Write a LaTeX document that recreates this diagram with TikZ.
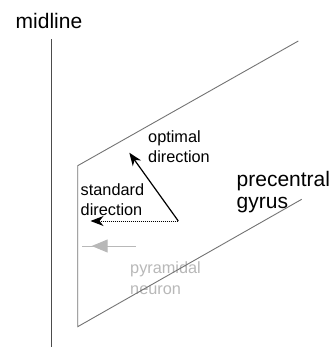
\documentclass[tikz,border=0pt]{standalone}
\usepackage{fontspec}
\setmainfont{Liberation Sans}
\usetikzlibrary{arrows.meta}

\definecolor{lineGray}{gray}{0.45}
\definecolor{axisGray}{gray}{0.3}
\definecolor{neuronGray}{gray}{0.72}

\begin{document}
\begin{tikzpicture}[x=1pt, y=-1pt, >={Stealth[length=13pt, width=10pt, inset=4pt]}]
  \useasboundingbox (0,0) rectangle (333,357);

  % Labels (base anchor = baseline of the last line)
  \node[anchor=base west, inner sep=0pt, font=\fontsize{21}{22}\selectfont] (midLabel) at (15.5,28) {midline};
  \node[anchor=base west, inner sep=0pt, align=left, font=\fontsize{16.3}{20}\selectfont] (optLabel) at (148,162) {optimal\\direction};
  \node[anchor=base west, inner sep=0pt, align=left, font=\fontsize{16.3}{20}\selectfont] (stdLabel) at (80.5,215) {standard\\direction};
  \node[anchor=base west, inner sep=0pt, align=left, font=\fontsize{21}{22}\selectfont] (gyrusLabel) at (236.5,208) {precentral\\gyrus};
  \node[anchor=base west, inner sep=0pt, align=left, text=neuronGray, font=\fontsize{16.3}{21}\selectfont] (neuronLabel) at (130,294) {pyramidal\\neuron};

  % Midline
  \draw[axisGray, line width=1pt] (51.7,39) -- (51.7,347);

  % Cut through the gyrus
  \draw[lineGray, line width=0.9pt] (298.3,41) -- (77.7,165.7) -- (77.7,326.7) -- (301.7,199.3);

  % Directions of the field
  \coordinate (O) at (178.3,221);
  \coordinate (optTip) at (129.3,152.7);
  \coordinate (stdTip) at (90.5,221);
  \draw[->, line width=1.2pt] (O) -- (optTip);
  \draw[->, densely dotted, line width=1pt] (O) -- (stdTip);

  % Pyramidal neuron
  \coordinate (neurTail) at (135.7,246);
  \coordinate (neurEnd) at (81.7,246);
  \coordinate (neurTip) at (91.7,246);
  \draw[neuronGray, line width=1pt] (neurTail) -- (neurEnd);
  \draw[neuronGray, -{Triangle[length=16pt, width=13pt]}, line width=1pt] (neurTail) -- (neurTip);
\end{tikzpicture}
\end{document}
